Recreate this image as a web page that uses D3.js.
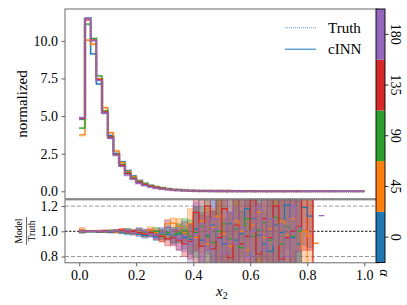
<!DOCTYPE html>
<html>
<head>
<meta charset="utf-8">
<script src="https://cdn.jsdelivr.net/npm/d3@7"></script>
<style>
  body { margin: 0; background: #fff; }
  svg { display: block; }
  text { font-family: "Liberation Serif", "DejaVu Serif", serif; fill: #000; }
</style>
</head>
<body>
<svg id="chart" width="407" height="305"></svg>
<script>
// Data /////////////////////////////////////////////////////////////////////////

const alphas = [0, 45, 90, 135, 180];
const colors = ['#1f77b4', '#ff7f0e', '#2ca02c', '#d62728', '#9467bd'];
const binWidth = 0.02;

// cINN histogram, 50 bins of width 0.02 on [0, 1]
const hist_0 = [4.80, 11.50, 9.13, 7.13, 5.20, 3.72, 2.52, 1.95, 1.37, 1.02, 0.71, 0.53, 0.40, 0.30, 0.22, 0.16, 0.12, 0.09, 0.07, 0.05,
  0.04, 0.03, 0.025, 0.02, 0.015, 0.012, 0.01, 0.008, 0.006, 0.005, 0.004, 0.003, 0.003, 0.002, 0.002, 0.001, 0.001, 0.001, 0.001, 0.001,
  0.001, 0, 0, 0, 0, 0, 0, 0, 0, 0];
const hist_45 = [3.75, 10.05, 9.79, 7.50, 5.56, 3.90, 2.68, 1.90, 1.30, 0.96, 0.68, 0.50, 0.37, 0.28, 0.20, 0.15, 0.11, 0.08, 0.06, 0.05,
  0.035, 0.03, 0.02, 0.016, 0.013, 0.01, 0.008, 0.006, 0.005, 0.004, 0.003, 0.003, 0.002, 0.002, 0.001, 0.001, 0.001, 0.001, 0.001, 0.001,
  0.001, 0.001, 0, 0, 0, 0, 0, 0, 0, 0];
const hist_90 = [4.20, 11.12, 10.15, 7.67, 5.34, 3.63, 2.46, 1.78, 1.25, 0.90, 0.64, 0.47, 0.35, 0.26, 0.19, 0.14, 0.10, 0.075, 0.055, 0.04,
  0.03, 0.025, 0.02, 0.015, 0.012, 0.01, 0.008, 0.006, 0.005, 0.004, 0.003, 0.003, 0.002, 0.002, 0.001, 0.001, 0.001, 0.001, 0.001, 0,
  0, 0, 0, 0, 0, 0, 0, 0, 0, 0];
const hist_135 = [4.85, 11.39, 10.05, 7.42, 5.28, 3.60, 2.44, 1.72, 1.17, 0.84, 0.59, 0.43, 0.32, 0.23, 0.17, 0.12, 0.09, 0.07, 0.05, 0.04,
  0.03, 0.02, 0.018, 0.014, 0.011, 0.009, 0.007, 0.005, 0.004, 0.003, 0.003, 0.002, 0.002, 0.001, 0.001, 0.001, 0.001, 0.001, 0.001, 0.001,
  0.001, 0, 0, 0, 0, 0, 0, 0, 0, 0];
const hist_180 = [4.90, 11.52, 10.01, 7.38, 5.19, 3.52, 2.40, 1.66, 1.08, 0.80, 0.53, 0.38, 0.28, 0.20, 0.15, 0.11, 0.08, 0.06, 0.045, 0.035,
  0.025, 0.02, 0.015, 0.012, 0.01, 0.008, 0.006, 0.005, 0.004, 0.003, 0.003, 0.002, 0.002, 0.001, 0.001, 0.001, 0.001, 0.001, 0.001, 0,
  0, 0, 0.001, 0, 0, 0, 0, 0, 0, 0];

// cINN / Truth ratio per bin (null = no value), and its uncertainty
const ratio_0 = [1.000, 0.998, 1.000, 0.996, 1.002, 0.994, 0.998, 0.992, 0.985, 0.990, 0.975, 0.965, 0.985, 0.955, 0.985, 0.975, 0.960, 0.980, 0.950, 0.935,
  1.020, 0.930, 0.970, 1.050, 0.950, 0.900, 1.060, 0.930, 0.980, 1.180, 1.100, 0.970, 0.900, 0.840, 1.050, 0.990, 1.210, 0.950, 0.900, 1.190,
  1.120, null, null];
const err_0 = [0.012, 0.005, 0.005, 0.006, 0.007, 0.008, 0.010, 0.012, 0.014, 0.016, 0.018, 0.020, 0.024, 0.028, 0.035, 0.045, 0.055, 0.070, 0.090, 0.120,
  0.180, 0.220, 0.150, 0.300, 0.300, 0.200, 0.400, 0.400, 0.180, 0.500, 0.500, 0.550, 0.250, 0.600, 0.300, 0.600, 0.350, 0.600, 0.600, 0.300,
  0.250, null, null];

const ratio_45 = [1.010, 1.000, 1.002, 1.004, 0.998, 1.003, 0.996, 1.005, 0.995, 0.990, 1.000, 0.985, 1.010, 0.990, 0.960, 1.060, 1.065, 1.040, 0.990, 1.060,
  0.950, 1.080, 0.900, 1.030, 1.120, 0.980, 0.880, 1.080, 1.000, 0.850, 1.050, 1.150, 0.950, 1.020, 0.900, 1.080, 0.970, 1.100, 0.850, 1.000,
  0.960, 0.905, null];
const err_45 = [0.020, 0.005, 0.005, 0.006, 0.007, 0.008, 0.010, 0.012, 0.014, 0.016, 0.020, 0.022, 0.026, 0.030, 0.040, 0.035, 0.040, 0.060, 0.080, 0.120,
  0.200, 0.250, 0.280, 0.150, 0.350, 0.300, 0.400, 0.350, 0.450, 0.400, 0.200, 0.400, 0.550, 0.600, 0.500, 0.250, 0.600, 0.500, 0.600, 0.600,
  0.300, 0.004, null];

const ratio_90 = [0.998, 1.002, 0.998, 1.000, 0.996, 1.004, 1.000, 0.996, 1.008, 0.995, 1.005, 0.990, 0.985, 1.000, 0.975, 0.990, 0.970, 0.985, 1.010, 0.960,
  0.990, 1.040, 0.960, 0.910, 1.000, 1.060, 0.940, 1.020, 0.870, 1.100, 0.960, 1.010, 1.070, 0.930, 1.110, 0.900, 1.040, 0.960, 1.000, null,
  null, null, null];
const err_90 = [0.012, 0.005, 0.005, 0.006, 0.007, 0.008, 0.010, 0.012, 0.014, 0.016, 0.018, 0.022, 0.026, 0.030, 0.040, 0.050, 0.060, 0.075, 0.090, 0.130,
  0.200, 0.160, 0.300, 0.250, 0.400, 0.300, 0.200, 0.400, 0.450, 0.300, 0.500, 0.550, 0.300, 0.600, 0.400, 0.500, 0.300, 0.400, 0.300, null,
  null, null, null];

const ratio_135 = [1.000, 0.999, 1.002, 0.998, 1.003, 0.997, 1.005, 1.010, 0.998, 1.000, 0.990, 0.980, 0.990, 0.970, 0.960, 0.940, 0.950, 0.930, 0.900, 0.920,
  1.150, 0.880, 1.200, 0.860, 0.950, 1.180, 0.790, 1.050, 0.900, 0.960, 1.250, 0.820, 1.100, 0.950, 1.200, 0.780, 0.950, 1.000, 1.040, 1.350,
  1.350, 0, null];
const err_135 = [0.010, 0.005, 0.005, 0.006, 0.007, 0.008, 0.010, 0.012, 0.014, 0.016, 0.020, 0.024, 0.028, 0.034, 0.045, 0.055, 0.065, 0.080, 0.100, 0.140,
  0.300, 0.250, 0.350, 0.300, 0.400, 0.450, 0.350, 0.500, 0.400, 0.450, 0.500, 0.400, 0.550, 0.600, 0.500, 0.500, 0.600, 0.600, 0.200, 0.500,
  0.500, null, null];

const ratio_180 = [1.000, 1.001, 0.999, 1.002, 0.997, 1.000, 1.003, 0.995, 1.005, 0.985, 1.010, 0.995, 0.980, 0.970, 0.985, 1.030, 0.960, 0.940, 0.960, 0.900,
  0.980, 1.060, 0.850, 1.100, 0.930, 0.820, 1.150, 0.900, 1.030, 0.800, 1.000, 1.200, 0.850, 1.100, 0.900, 1.050, 0.800, 1.200, 0.850, null,
  null, null, 1.124];
const err_180 = [0.014, 0.005, 0.005, 0.006, 0.007, 0.008, 0.010, 0.012, 0.014, 0.016, 0.020, 0.024, 0.028, 0.034, 0.045, 0.055, 0.065, 0.090, 0.120, 0.160,
  0.250, 0.300, 0.300, 0.350, 0.200, 0.450, 0.400, 0.300, 0.500, 0.450, 0.550, 0.400, 0.500, 0.600, 0.300, 0.550, 0.600, 0.500, 0.500, null,
  null, null, 0];

const hists = [hist_0, hist_45, hist_90, hist_135, hist_180];
const ratios = [ratio_0, ratio_45, ratio_90, ratio_135, ratio_180];
const errs = [err_0, err_45, err_90, err_135, err_180];

const yTicksMain = [0, 2.5, 5, 7.5, 10];
const yTicksRatio = [0.8, 1.0, 1.2];
const xTicks = [0, 0.2, 0.4, 0.6, 0.8, 1.0];
const legendItems = ['Truth', 'cINN'];

// Layout ///////////////////////////////////////////////////////////////////////

const svg = d3.select('#chart');

const x = d3.scaleLinear([-0.05, 1.05], [65, 378.5]);
const yMain = d3.scaleLinear([-0.5, 12.12], [198.8, 9]);
const yRatio = d3.scaleLinear([0.75, 1.25], [262.8, 199.8]);
const cbar = d3.scaleBand(alphas, [262.5, 9]).paddingInner(0).paddingOuter(0);

const defs = svg.append('defs');
defs.append('clipPath').attr('id', 'clip-main')
  .append('rect').attr('x', 65).attr('y', 9).attr('width', 313.5).attr('height', 189.8);
defs.append('clipPath').attr('id', 'clip-ratio')
  .append('rect').attr('x', 65).attr('y', 199.8).attr('width', 313.5).attr('height', 63);

const frameColor = '#6a6a6a';

// Main panel ///////////////////////////////////////////////////////////////////

const main = svg.append('g').attr('id', 'main').attr('clip-path', 'url(#clip-main)');

function stepPath(values, yScale) {
  // one segment per run of defined bins, drawn as a step line
  let d = '';
  let open = false;
  values.forEach((v, i) => {
    if (v === null || v === undefined) { open = false; return; }
    const x0 = x(i * binWidth), x1 = x((i + 1) * binWidth), yy = yScale(v);
    d += (open ? `L${x0},${yy}` : `M${x0},${yy}`) + `L${x1},${yy}`;
    open = true;
  });
  return d;
}

hists.forEach((h, k) => {
  const truth = h.map((v, i) => {
    const r = ratios[k][i];
    return (r && r > 0) ? v / r : v;
  });
  main.append('path')
    .attr('d', stepPath(truth, yMain))
    .attr('fill', 'none')
    .attr('stroke', colors[k])
    .attr('stroke-opacity', 0.45)
    .attr('stroke-width', 2.6)
    .attr('stroke-dasharray', '1.2,1');
  main.append('path')
    .attr('d', stepPath(h, yMain))
    .attr('fill', 'none')
    .attr('stroke', colors[k])
    .attr('stroke-width', 1.2);
});

const yAxisMain = svg.append('g')
  .attr('transform', 'translate(65,0)')
  .call(d3.axisLeft(yMain).tickValues(yTicksMain).tickFormat(d3.format('.1f')).tickSizeOuter(0).tickSize(3.5).tickPadding(3.5));
yAxisMain.select('.domain').remove();

svg.append('rect').attr('x', 65).attr('y', 9).attr('width', 313.5).attr('height', 189.8)
  .attr('fill', 'none').attr('stroke', frameColor).attr('stroke-width', 1);

// legend
const legend = svg.append('g').attr('id', 'legend');
legendItems.forEach((name, i) => {
  const yy = 27.7 + i * 21.6;
  legend.append('line')
    .attr('x1', 285).attr('x2', 316).attr('y1', yy).attr('y2', yy)
    .attr('stroke', '#5f9fd3')
    .attr('stroke-width', i === 0 ? 1.1 : 1.5)
    .attr('stroke-dasharray', i === 0 ? '1,1' : null);
  legend.append('text')
    .attr('x', 328).attr('y', yy + 5)
    .attr('font-size', 15)
    .text(name);
});

svg.append('text')
  .attr('transform', 'translate(22,104) rotate(-90)')
  .attr('text-anchor', 'middle').attr('dominant-baseline', 'central')
  .attr('font-size', 15)
  .text('normalized');

// Ratio panel //////////////////////////////////////////////////////////////////

const ratioG = svg.append('g').attr('id', 'ratio').attr('clip-path', 'url(#clip-ratio)');

// reference lines
yTicksRatio.forEach(v => {
  ratioG.append('line')
    .attr('x1', 65).attr('x2', 378.5).attr('y1', yRatio(v)).attr('y2', yRatio(v))
    .attr('stroke', v === 1 ? '#000' : '#999')
    .attr('stroke-width', v === 1 ? 0.9 : 1)
    .attr('stroke-dasharray', v === 1 ? '2.5,1.5' : '4,2');
});

ratios.forEach((r, k) => {
  const bands = r.map((v, i) => ({ i, v, e: errs[k][i] }))
    .filter(d => d.v !== null && d.e !== null && d.e > 0);
  ratioG.append('g')
    .selectAll('rect')
    .data(bands)
    .join('rect')
    .attr('x', d => x(d.i * binWidth))
    .attr('width', d => x((d.i + 1) * binWidth) - x(d.i * binWidth))
    .attr('y', d => yRatio(d.v + d.e))
    .attr('height', d => yRatio(d.v - d.e) - yRatio(d.v + d.e))
    .attr('fill', colors[k])
    .attr('fill-opacity', 0.34)
    .attr('stroke', colors[k])
    .attr('stroke-opacity', 0.45)
    .attr('stroke-width', 0.8);
});

ratios.forEach((r, k) => {
  ratioG.append('path')
    .attr('d', stepPath(r, yRatio))
    .attr('fill', 'none')
    .attr('stroke', colors[k])
    .attr('stroke-width', 1.2);
});

const yAxisRatio = svg.append('g')
  .attr('transform', 'translate(65,0)')
  .call(d3.axisLeft(yRatio).tickValues(yTicksRatio).tickFormat(d3.format('.1f')).tickSizeOuter(0).tickSize(3.5).tickPadding(3.5));
yAxisRatio.select('.domain').remove();

const xAxis = svg.append('g')
  .attr('transform', 'translate(0,262.8)')
  .call(d3.axisBottom(x).tickValues(xTicks).tickFormat(d3.format('.1f')).tickSizeOuter(0).tickSize(3.5).tickPadding(3.5));
xAxis.select('.domain').remove();

svg.append('rect').attr('x', 65).attr('y', 199.8).attr('width', 313.5).attr('height', 63)
  .attr('fill', 'none').attr('stroke', frameColor).attr('stroke-width', 1);

svg.selectAll('.tick text').attr('font-size', 14).attr('font-family', '"Liberation Serif", serif');
svg.selectAll('.tick line').attr('stroke', '#333').attr('stroke-width', 0.8);

// Model / Truth label
const frac = svg.append('g').attr('transform', 'translate(26.5,231) rotate(-90)');
frac.append('text').attr('y', -5).attr('text-anchor', 'middle').attr('font-size', 9.5).text('Model');
frac.append('line').attr('x1', -14).attr('x2', 14).attr('y1', 0).attr('y2', 0).attr('stroke', '#000').attr('stroke-width', 0.6);
frac.append('text').attr('y', 8.5).attr('text-anchor', 'middle').attr('font-size', 9.5).text('Truth');

const xlab = svg.append('text')
  .attr('x', 221.8).attr('y', 296)
  .attr('text-anchor', 'middle')
  .attr('font-size', 15);
xlab.append('tspan').attr('font-style', 'italic').text('x');
xlab.append('tspan').attr('font-size', 10).attr('dy', 3).text('2');

// Colorbar /////////////////////////////////////////////////////////////////////

const cb = svg.append('g').attr('id', 'colorbar');
cb.selectAll('rect')
  .data(alphas)
  .join('rect')
  .attr('x', 376).attr('width', 9)
  .attr('y', d => cbar(d))
  .attr('height', cbar.bandwidth())
  .attr('fill', (d, i) => colors[i]);
cb.append('rect').attr('x', 376).attr('y', 9).attr('width', 9).attr('height', 253.5)
  .attr('fill', 'none').attr('stroke', '#000').attr('stroke-width', 0.9);

cb.selectAll('line.cbtick')
  .data(alphas)
  .join('line')
  .attr('class', 'cbtick')
  .attr('x1', 385).attr('x2', 388.5)
  .attr('y1', d => cbar(d) + cbar.bandwidth() / 2)
  .attr('y2', d => cbar(d) + cbar.bandwidth() / 2)
  .attr('stroke', '#000').attr('stroke-width', 0.8);

cb.selectAll('text.cblabel')
  .data(alphas)
  .join('text')
  .attr('class', 'cblabel')
  .attr('transform', d => `translate(395,${cbar(d) + cbar.bandwidth() / 2}) rotate(90)`)
  .attr('text-anchor', 'middle').attr('dominant-baseline', 'central')
  .attr('font-size', 14)
  .text(d => d);

cb.append('text')
  .attr('transform', 'translate(384,273) rotate(90)')
  .attr('text-anchor', 'middle').attr('dominant-baseline', 'central')
  .attr('font-size', 14).attr('font-style', 'italic')
  .text('α');
</script>
</body>
</html>
